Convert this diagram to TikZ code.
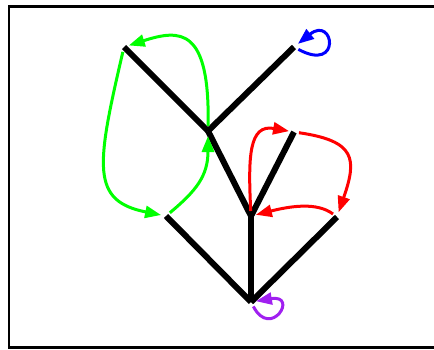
\documentclass[tikz,border=0pt]{standalone}
\usepackage{tikz}
\usetikzlibrary{arrows.meta}
\definecolor{loopviolet}{RGB}{160,32,240}

\begin{document}
\begin{tikzpicture}[
    x=1pt, y=1pt,
    tree/.style={line width=6pt},
    frame/.style={line width=2.5pt},
    link/.style={line width=3pt, -{Triangle[length=16pt, width=12pt]}, shorten <=5pt, shorten >=5pt}
]
\useasboundingbox (0,0) rectangle (434,349);
\draw[frame] (9,1.5) rectangle (437,342.5);

% tree vertices
\coordinate (root)  at (251,47);
\coordinate (lft)   at (166,133);
\coordinate (mid)   at (251,133);
\coordinate (rgt)   at (337,132);
\coordinate (fork)  at (208,218);
\coordinate (spur)  at (294,217);
\coordinate (leafL) at (124,302);
\coordinate (leafR) at (294,302);

\draw[tree] (root) -- (lft);
\draw[tree] (root) -- (mid);
\draw[tree] (root) -- (rgt);
\draw[tree] (mid) -- (fork);
\draw[tree] (mid) -- (spur);
\draw[tree] (fork) -- (leafL);
\draw[tree] (fork) -- (leafR);

% green cycle
\draw[link, green] (fork) .. controls +(2,104) and +(56,18) .. (leafL);
\draw[link, green] (leafL) .. controls +(-28,-120) and +(-75,15) .. (lft);
\draw[link, green] (lft) .. controls +(30,25) and +(0,-45) .. (fork);

% red cycle
\draw[link, red] (mid) .. controls +(-3,60) and +(-45,8) .. (spur);
\draw[link, red] (spur) .. controls +(62,-9) and +(20,58) .. (rgt);
\draw[link, red] (rgt) .. controls +(-20,15) and +(40,10) .. (mid);

% self loops
\draw[link, blue] (leafR) .. controls +(48,-26) and +(40,32) .. (leafR);
\draw[link, loopviolet] (root) .. controls +(20,-38) and +(48,8) .. (root);
\end{tikzpicture}
\end{document}
